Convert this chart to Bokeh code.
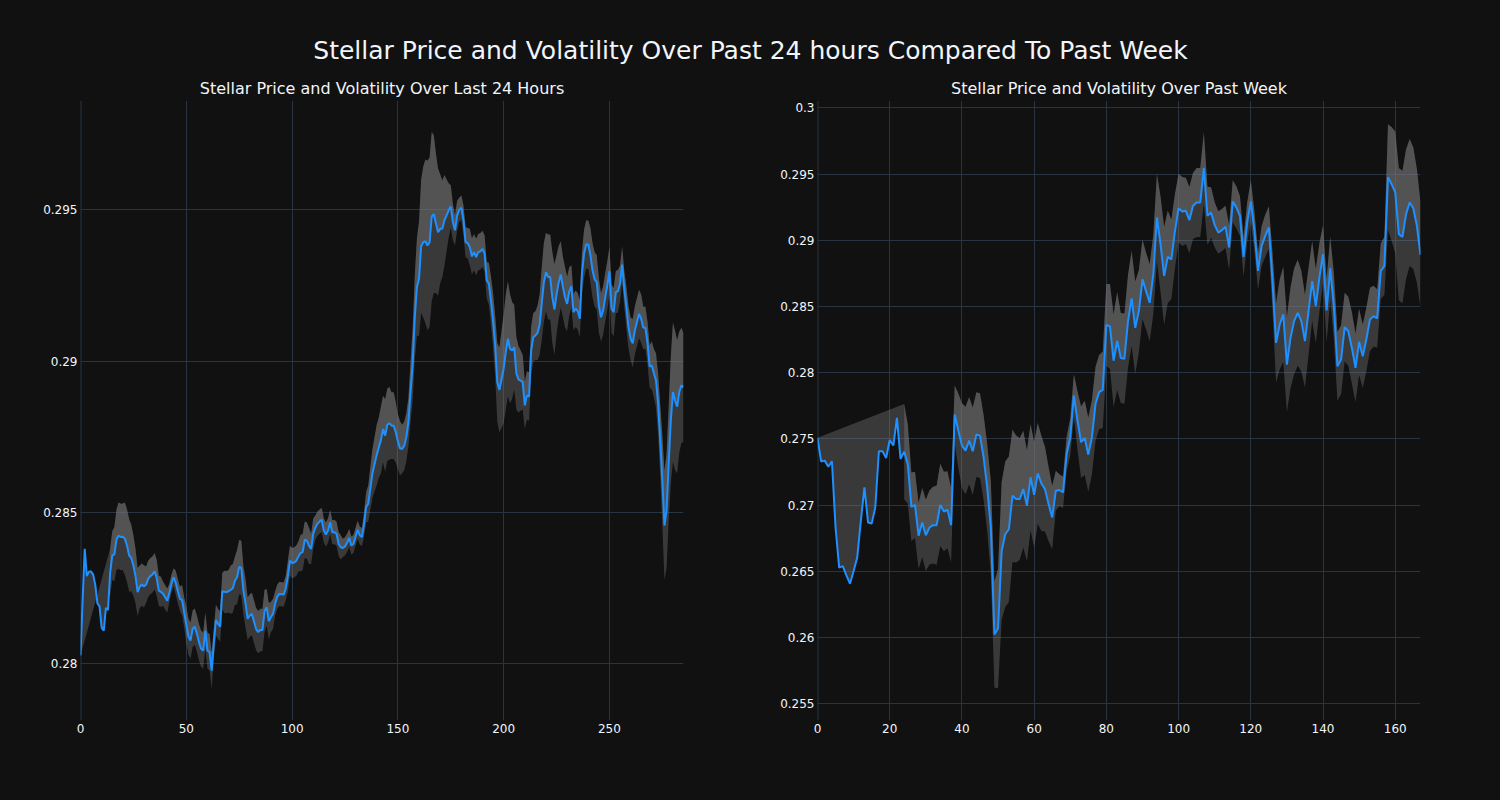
from bokeh.plotting import figure
from bokeh.layouts import column, row
from bokeh.models import Range1d, FixedTicker, CustomJSTickFormatter, Span, Label
from bokeh.embed import file_html
from bokeh.resources import INLINE

MAIN_TITLE = "Stellar Price and Volatility Over Past 24 hours Compared To Past Week"
TITLE_24H = "Stellar Price and Volatility Over Last 24 Hours"
TITLE_WEEK = "Stellar Price and Volatility Over Past Week"

# ---- last 24 hours (5-minute steps) ----
price_24h = [
    0.28028, 0.28210, 0.28380, 0.28290, 0.28305, 0.28305, 0.28295, 0.28260, 0.28200, 0.28190,
    0.28120, 0.28110, 0.28185, 0.28178, 0.28300, 0.28358, 0.28362, 0.28410, 0.28424, 0.28419,
    0.28420, 0.28413, 0.28390, 0.28358, 0.28350, 0.28325, 0.28290, 0.28237, 0.28255, 0.28262,
    0.28256, 0.28262, 0.28281, 0.28290, 0.28295, 0.28306, 0.28285, 0.28242, 0.28238, 0.28232,
    0.28220, 0.28209, 0.28235, 0.28265, 0.28286, 0.28268, 0.28240, 0.28215, 0.28211, 0.28170,
    0.28130, 0.28090, 0.28077, 0.28116, 0.28123, 0.28100, 0.28072, 0.28050, 0.28044, 0.28110,
    0.28044, 0.28039, 0.27978, 0.28066, 0.28145, 0.28132, 0.28123, 0.28240, 0.28238, 0.28237,
    0.28240, 0.28245, 0.28250, 0.28275, 0.28286, 0.28320, 0.28317, 0.28242, 0.28200, 0.28149,
    0.28160, 0.28165, 0.28140, 0.28115, 0.28105, 0.28112, 0.28112, 0.28175, 0.28187, 0.28141,
    0.28155, 0.28165, 0.28200, 0.28222, 0.28231, 0.28230, 0.28229, 0.28250, 0.28290, 0.28341,
    0.28333, 0.28335, 0.28341, 0.28355, 0.28366, 0.28369, 0.28410, 0.28407, 0.28390, 0.28380,
    0.28430, 0.28450, 0.28463, 0.28470, 0.28476, 0.28441, 0.28427, 0.28441, 0.28468, 0.28435,
    0.28435, 0.28430, 0.28396, 0.28385, 0.28383, 0.28388, 0.28400, 0.28416, 0.28391, 0.28396,
    0.28420, 0.28443, 0.28424, 0.28419, 0.28460, 0.28518, 0.28529, 0.28580, 0.28630, 0.28660,
    0.28690, 0.28715, 0.28740, 0.28776, 0.28754, 0.28790, 0.28795, 0.28787, 0.28787, 0.28765,
    0.28735, 0.28712, 0.28710, 0.28720, 0.28749, 0.28800, 0.28900, 0.28990, 0.29145, 0.29245,
    0.29272, 0.29380, 0.29393, 0.29396, 0.29382, 0.29393, 0.29478, 0.29485, 0.29455, 0.29426,
    0.29437, 0.29437, 0.29465, 0.29481, 0.29498, 0.29511, 0.29460, 0.29432, 0.29480, 0.29500,
    0.29507, 0.29465, 0.29393, 0.29390, 0.29377, 0.29346, 0.29360, 0.29344, 0.29360, 0.29363,
    0.29371, 0.29355, 0.29267, 0.29256, 0.29200, 0.29134, 0.29050, 0.28930, 0.28905, 0.28940,
    0.28975, 0.29030, 0.29074, 0.29041, 0.29035, 0.29046, 0.28960, 0.28940, 0.28936, 0.28930,
    0.28854, 0.28887, 0.28883, 0.29035, 0.29079, 0.29085, 0.29093, 0.29120, 0.29190, 0.29260,
    0.29294, 0.29278, 0.29278, 0.29211, 0.29170, 0.29220, 0.29260, 0.29286, 0.29245, 0.29211,
    0.29189, 0.29230, 0.29247, 0.29162, 0.29173, 0.29165, 0.29140, 0.29289, 0.29355, 0.29385,
    0.29385, 0.29350, 0.29300, 0.29270, 0.29261, 0.29184, 0.29145, 0.29167, 0.29211, 0.29250,
    0.29297, 0.29173, 0.29162, 0.29228, 0.29231, 0.29256, 0.29319, 0.29239, 0.29178, 0.29112,
    0.29074, 0.29059, 0.29101, 0.29129, 0.29156, 0.29140, 0.29110, 0.29110, 0.29060, 0.28982,
    0.28986, 0.28960, 0.28936, 0.28859, 0.28738, 0.28606, 0.28457, 0.28507, 0.28661, 0.28804,
    0.28898, 0.28870, 0.28850, 0.28898, 0.28920, 0.28914,
]
N = None
vol_24h = [
    N, N, N, N, N, N, N, N, N, N,
    N, N, N, N, 0.0008, 0.0008, 0.0009, 0.0010, 0.0011, 0.0011,
    0.0011, 0.0012, 0.0012, 0.0012, 0.0011, 0.0010, 0.0009, 0.0008, 0.0007, 0.0007,
    0.0007, 0.0006, 0.0006, 0.0006, 0.0006, 0.0006, 0.0006, 0.0005, 0.0005, 0.0004,
    0.0004, 0.0004, 0.0003, 0.0003, 0.0003, 0.0004, 0.0004, 0.0004, 0.0005, 0.0005,
    0.0006, 0.0006, 0.0006, 0.0006, 0.0006, 0.0006, 0.0006, 0.0006, 0.0006, 0.0006,
    0.0006, 0.0006, 0.0006, 0.0005, 0.0005, 0.0005, 0.0005, 0.0006, 0.0007, 0.0007,
    0.0007, 0.0008, 0.0008, 0.0008, 0.0009, 0.0009, 0.0009, 0.0008, 0.0008, 0.0007,
    0.0007, 0.0007, 0.0007, 0.0007, 0.0007, 0.0007, 0.0007, 0.0007, 0.0006, 0.0006,
    0.0005, 0.0005, 0.0004, 0.0004, 0.0004, 0.0004, 0.0004, 0.0004, 0.0005, 0.0005,
    0.0005, 0.0005, 0.0005, 0.0005, 0.0006, 0.0006, 0.0006, 0.0006, 0.0006, 0.0005,
    0.0005, 0.0004, 0.0004, 0.0004, 0.0004, 0.0004, 0.0004, 0.0004, 0.0004, 0.0004,
    0.0004, 0.0004, 0.0004, 0.0004, 0.0003, 0.0003, 0.0003, 0.0003, 0.0003, 0.0003,
    0.0003, 0.0003, 0.0003, 0.0003, 0.0004, 0.0005, 0.0006, 0.0007, 0.0008, 0.0009,
    0.0010, 0.0010, 0.0011, 0.0011, 0.0012, 0.0012, 0.0012, 0.0011, 0.0011, 0.0010,
    0.0009, 0.0009, 0.0008, 0.0008, 0.0008, 0.0008, 0.0010, 0.0012, 0.0014, 0.0016,
    0.0019, 0.0022, 0.0025, 0.0027, 0.0028, 0.0028, 0.0028, 0.0026, 0.0023, 0.0021,
    0.0018, 0.0016, 0.0015, 0.0012, 0.0009, 0.0007, 0.0006, 0.0005, 0.0005, 0.0004,
    0.0004, 0.0005, 0.0005, 0.0005, 0.0006, 0.0006, 0.0006, 0.0006, 0.0006, 0.0006,
    0.0006, 0.0006, 0.0006, 0.0007, 0.0008, 0.0009, 0.0010, 0.0013, 0.0014, 0.0016,
    0.0018, 0.0019, 0.0019, 0.0018, 0.0016, 0.0014, 0.0012, 0.0011, 0.0010, 0.0009,
    0.0008, 0.0008, 0.0008, 0.0008, 0.0008, 0.0008, 0.0009, 0.0010, 0.0012, 0.0013,
    0.0013, 0.0014, 0.0014, 0.0015, 0.0015, 0.0013, 0.0012, 0.0011, 0.0010, 0.0010,
    0.0009, 0.0008, 0.0007, 0.0006, 0.0006, 0.0006, 0.0006, 0.0007, 0.0008, 0.0008,
    0.0008, 0.0009, 0.0009, 0.0009, 0.0009, 0.0009, 0.0008, 0.0008, 0.0008, 0.0008,
    0.0008, 0.0008, 0.0008, 0.0007, 0.0007, 0.0006, 0.0006, 0.0006, 0.0007, 0.0007,
    0.0007, 0.0008, 0.0008, 0.0008, 0.0008, 0.0008, 0.0007, 0.0007, 0.0007, 0.0007,
    0.0008, 0.0008, 0.0009, 0.0010, 0.0012, 0.0015, 0.0018, 0.0019, 0.0019, 0.0021,
    0.0023, 0.0023, 0.0022, 0.0020, 0.0019, 0.0018,
]

# ---- past week (hourly steps) ----
price_week = [
    0.27508, 0.27330, 0.27336, 0.27290, 0.27331, 0.26831, 0.26528, 0.26540, 0.26470, 0.26407,
    0.26503, 0.26604, 0.26881, 0.27134, 0.26869, 0.26861, 0.26982, 0.27407, 0.27407, 0.27356,
    0.27492, 0.27450, 0.27659, 0.27349, 0.27404, 0.27311, 0.26987, 0.27002, 0.26768, 0.26869,
    0.26773, 0.26831, 0.26849, 0.26849, 0.27002, 0.26952, 0.26965, 0.26849, 0.27684, 0.27563,
    0.27450, 0.27412, 0.27487, 0.27407, 0.27533, 0.27525, 0.27361, 0.27134, 0.26831, 0.26023,
    0.26068, 0.26654, 0.26780, 0.26818, 0.27071, 0.27046, 0.27046, 0.27121, 0.26995, 0.27210,
    0.27078, 0.27240, 0.27164, 0.27121, 0.27008, 0.26907, 0.27109, 0.27114, 0.27096, 0.27386,
    0.27513, 0.27828, 0.27639, 0.27475, 0.27508, 0.27381, 0.27513, 0.27765, 0.27854, 0.27870,
    0.28360, 0.28350, 0.28090, 0.28240, 0.28111, 0.28106, 0.28389, 0.28561, 0.28339, 0.28465,
    0.28705, 0.28616, 0.28528, 0.28742, 0.29172, 0.28970, 0.28730, 0.28874, 0.28856, 0.29071,
    0.29242, 0.29217, 0.29222, 0.29152, 0.29260, 0.29285, 0.29285, 0.29545, 0.29184, 0.29210,
    0.29116, 0.29058, 0.29076, 0.29101, 0.28945, 0.29293, 0.29248, 0.29184, 0.28874, 0.29134,
    0.29293, 0.29071, 0.28768, 0.28957, 0.29033, 0.29096, 0.28692, 0.28225, 0.28364, 0.28440,
    0.28061, 0.28263, 0.28389, 0.28452, 0.28389, 0.28238, 0.28465, 0.28692, 0.28503, 0.28717,
    0.28894, 0.28470, 0.28788, 0.28503, 0.28048, 0.28099, 0.28344, 0.28313, 0.28187, 0.28036,
    0.28233, 0.28124, 0.28250, 0.28402, 0.28427, 0.28409, 0.28768, 0.28806, 0.29475, 0.29424,
    0.29361, 0.29046, 0.29025, 0.29197, 0.29285, 0.29242, 0.29109, 0.28889,
]
vol_week = [
    N, N, N, N, N, N, N, N, N, N,
    N, N, N, N, N, N, N, N, N, N,
    N, N, N, N, 0.0036, 0.0030, 0.0026, 0.0025, 0.0025, 0.0026,
    0.0027, 0.0028, 0.0029, 0.0030, 0.0031, 0.0030, 0.0029, 0.0028, 0.0022, 0.0028,
    0.0032, 0.0033, 0.0033, 0.0033, 0.0032, 0.0032, 0.0032, 0.0033, 0.0035, 0.0040,
    0.0045, 0.0052, 0.0055, 0.0055, 0.0050, 0.0048, 0.0046, 0.0044, 0.0042, 0.0040,
    0.0040, 0.0038, 0.0036, 0.0032, 0.0028, 0.0024, 0.0015, 0.0012, 0.0012, 0.0013,
    0.0014, 0.0016, 0.0022, 0.0027, 0.0028, 0.0028, 0.0028, 0.0028, 0.0028, 0.0029,
    0.0031, 0.0032, 0.0035, 0.0037, 0.0034, 0.0034, 0.0035, 0.0036, 0.0035, 0.0031,
    0.0030, 0.0029, 0.0029, 0.0030, 0.0033, 0.0036, 0.0037, 0.0035, 0.0030, 0.0028,
    0.0026, 0.0026, 0.0025, 0.0025, 0.0025, 0.0026, 0.0026, 0.0027, 0.0022, 0.0019,
    0.0017, 0.0016, 0.0016, 0.0016, 0.0017, 0.0016, 0.0016, 0.0015, 0.0015, 0.0015,
    0.0016, 0.0015, 0.0014, 0.0015, 0.0016, 0.0016, 0.0022, 0.0030, 0.0034, 0.0036,
    0.0036, 0.0038, 0.0040, 0.0040, 0.0038, 0.0035, 0.0033, 0.0030, 0.0028, 0.0026,
    0.0022, 0.0024, 0.0024, 0.0025, 0.0026, 0.0026, 0.0026, 0.0026, 0.0027, 0.0026,
    0.0025, 0.0024, 0.0024, 0.0024, 0.0023, 0.0022, 0.0021, 0.0022, 0.0040, 0.0043,
    0.0046, 0.0050, 0.0050, 0.0049, 0.0048, 0.0046, 0.0043, 0.0040,
]

x_ticks_24h = [0, 50, 100, 150, 200, 250]
y_ticks_24h = [0.28, 0.285, 0.29, 0.295]
x_ticks_week = [0, 20, 40, 60, 80, 100, 120, 140, 160]
y_ticks_week = [0.255, 0.26, 0.265, 0.27, 0.275, 0.28, 0.285, 0.29, 0.295, 0.3]

BG = "#111111"
GRID = "#283442"
TXT = "#f2f5fa"
LINE = "#1e90ff"
BAND = "#808080"
FONT = "DejaVu Sans"


def make_plot(price, vol, y_lo, y_hi, xticks, yticks, border_left, border_right):
    n = len(price)
    xs = list(range(n))
    valid = [i for i in range(n) if vol[i] is not None]
    upper = [price[i] + vol[i] for i in valid]
    lower = [price[i] - vol[i] for i in valid]

    p = figure(width=750, height=700, output_backend="svg", toolbar_location=None,
               title=None, x_range=Range1d(0, n - 1), y_range=Range1d(y_lo, y_hi),
               min_border_left=border_left, min_border_right=border_right,
               min_border_top=0, min_border_bottom=80,
               background_fill_color=BG, border_fill_color=BG, outline_line_color=None)

    # whole band (lower -> upper)
    p.patch(valid + valid[::-1], upper + lower[::-1],
            fill_color=BAND, fill_alpha=0.37, line_color=None)
    # price -> upper fill
    p.patch(xs + valid[::-1], list(price) + upper[::-1],
            fill_color=BAND, fill_alpha=0.37, line_color=None)
    p.line(xs, price, line_color=LINE, line_width=2)

    p.add_layout(Span(location=0, dimension="height", line_color=GRID,
                      line_width=2, level="underlay"))

    for ax in (p.xaxis[0], p.yaxis[0]):
        ax.axis_line_color = None
        ax.major_tick_line_color = None
        ax.minor_tick_line_color = None
        ax.major_tick_out = 0
        ax.major_tick_in = 0
        ax.major_label_text_font = FONT
        ax.major_label_text_font_size = "12px"
        ax.major_label_text_color = TXT
    p.xaxis.major_label_standoff = 3
    p.yaxis.major_label_standoff = 3
    p.xaxis.ticker = FixedTicker(ticks=xticks)
    p.yaxis.ticker = FixedTicker(ticks=yticks)
    p.yaxis.formatter = CustomJSTickFormatter(code="return String(Number(tick.toFixed(4)));")
    p.grid.grid_line_color = GRID
    p.grid.grid_line_width = 1
    return p


left = make_plot(price_24h, vol_24h, 0.27813, 0.29861, x_ticks_24h, y_ticks_24h, 80, 67)
right = make_plot(price_week, vol_week, 0.25374, 0.30055, x_ticks_week, y_ticks_week, 67, 80)

head = figure(width=1500, height=100, output_backend="svg", toolbar_location=None,
              title=None, x_range=Range1d(0, 1500), y_range=Range1d(0, 100),
              x_axis_type=None, y_axis_type=None, min_border=0,
              background_fill_color=BG, border_fill_color=BG, outline_line_color=None)
head.grid.visible = False
head.add_layout(Label(x=750, y=50, text=MAIN_TITLE, text_align="center",
                      text_baseline="middle", text_font=FONT,
                      text_font_size="25px", text_color=TXT))
head.add_layout(Label(x=381.5, y=12, text=TITLE_24H, text_align="center",
                      text_baseline="middle", text_font=FONT,
                      text_font_size="16px", text_color=TXT))
head.add_layout(Label(x=1118.5, y=12, text=TITLE_WEEK, text_align="center",
                      text_baseline="middle", text_font=FONT,
                      text_font_size="16px", text_color=TXT))

layout = column(head, row(left, right, spacing=0), spacing=0,
                styles={"background-color": BG})

open("out.html", "w").write(file_html(layout, INLINE))
